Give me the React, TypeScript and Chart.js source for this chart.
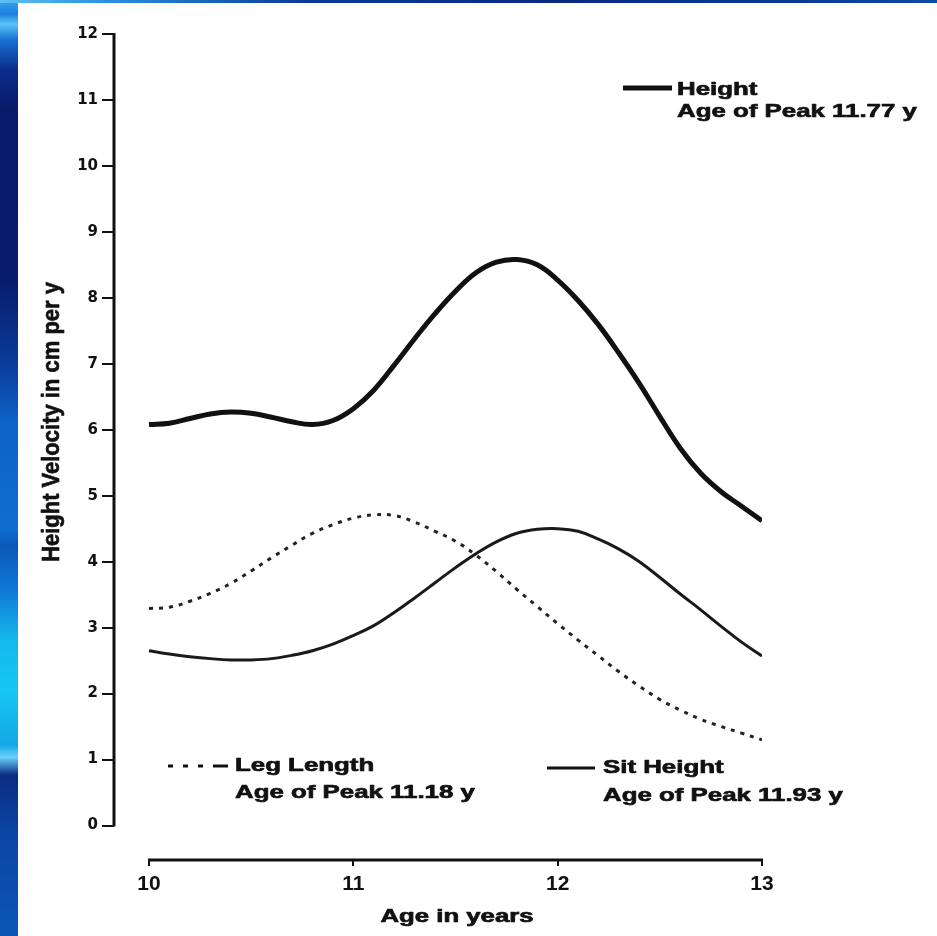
import React, { useEffect, useRef } from "react";
import { Chart, registerables } from "chart.js";

Chart.register(...registerables);

// ---------- data ----------
const ages = [
  10.0, 10.1, 10.2, 10.3, 10.4, 10.5, 10.6, 10.7, 10.8, 10.9,
  11.0, 11.1, 11.2, 11.3, 11.4, 11.5, 11.6, 11.7, 11.8, 11.9,
  12.0, 12.1, 12.2, 12.3, 12.4, 12.5, 12.6, 12.7, 12.8, 12.9, 13.0,
];

const heightVelocity = [
  6.08, 6.1, 6.17, 6.24, 6.27, 6.25, 6.19, 6.12, 6.08, 6.14,
  6.32, 6.6, 6.98, 7.38, 7.76, 8.1, 8.38, 8.54, 8.58, 8.5,
  8.27, 7.96, 7.59, 7.16, 6.7, 6.2, 5.72, 5.34, 5.06, 4.84, 4.62,
];

const legLengthVelocity = [
  3.29, 3.31, 3.4, 3.52, 3.67, 3.86, 4.06, 4.25, 4.43, 4.56,
  4.66, 4.71, 4.7, 4.6, 4.46, 4.31, 4.1, 3.85, 3.58, 3.32,
  3.06, 2.81, 2.57, 2.33, 2.11, 1.91, 1.75, 1.61, 1.5, 1.4, 1.3,
];

const sitHeightVelocity = [
  2.65, 2.6, 2.56, 2.53, 2.51, 2.51, 2.53, 2.58, 2.65, 2.75,
  2.88, 3.03, 3.23, 3.45, 3.68, 3.91, 4.12, 4.3, 4.43, 4.49,
  4.5, 4.46, 4.34, 4.19, 4.0, 3.76, 3.51, 3.27, 3.02, 2.78, 2.57,
];

const xAxisMin = 10;
const xAxisMax = 13;
const yAxisMin = 0;
const yAxisMax = 12;

const legendHeight = ["Height", "Age of Peak 11.77 y"];
const legendLeg = ["Leg Length", "Age of Peak 11.18 y"];
const legendSit = ["Sit Height", "Age of Peak 11.93 y"];
const xTitle = "Age in years";
const yTitle = "Height Velocity in cm per y";

// ---------- layout ----------
const OX = 18; // canvas offset in page
const OY = 3;
const CW = 919;
const CH = 933;
const FONT = '"Liberation Sans", Arial, Helvetica, sans-serif';
const INK = "#111111";

function drawText(
  ctx: CanvasRenderingContext2D,
  text: string,
  x: number,
  y: number,
  size: number,
  sx: number,
  align: CanvasTextAlign = "left"
) {
  ctx.save();
  ctx.font = `bold ${size}px ${FONT}`;
  ctx.fillStyle = INK;
  ctx.strokeStyle = INK;
  ctx.lineWidth = 0.7;
  ctx.lineJoin = "round";
  ctx.textBaseline = "alphabetic";
  ctx.textAlign = align;
  ctx.translate(x - OX, y - OY);
  ctx.scale(sx, 1);
  ctx.fillText(text, 0, 0);
  ctx.strokeText(text, 0, 0);
  ctx.restore();
}

function sampleLine(
  ctx: CanvasRenderingContext2D,
  x1: number,
  x2: number,
  y: number,
  w: number,
  dash: number[] = []
) {
  ctx.save();
  ctx.strokeStyle = INK;
  ctx.lineWidth = w;
  ctx.setLineDash(dash);
  ctx.beginPath();
  ctx.moveTo(x1 - OX, y - OY);
  ctx.lineTo(x2 - OX, y - OY);
  ctx.stroke();
  ctx.restore();
}

const decorPlugin = {
  id: "decor",
  beforeDatasetsDraw(chart: any) {
    const ctx: CanvasRenderingContext2D = chart.ctx;
    const xs = chart.scales.x;
    const ys = chart.scales.y;
    const area = chart.chartArea;
    ctx.save();
    ctx.strokeStyle = INK;
    ctx.lineWidth = 3;
    ctx.lineCap = "butt";
    // y axis line (0..12)
    ctx.beginPath();
    ctx.moveTo(area.left, ys.getPixelForValue(yAxisMax) - 1);
    ctx.lineTo(area.left, ys.getPixelForValue(yAxisMin) + 1);
    ctx.stroke();
    // x axis line (10..13)
    ctx.beginPath();
    ctx.moveTo(xs.getPixelForValue(xAxisMin) - 1, area.bottom);
    ctx.lineTo(xs.getPixelForValue(xAxisMax) + 1, area.bottom);
    ctx.stroke();
    ctx.restore();
  },
  afterDraw(chart: any) {
    const ctx: CanvasRenderingContext2D = chart.ctx;
    const S = 1.36;
    // Height legend (top right)
    sampleLine(ctx, 623, 672, 88, 5);
    drawText(ctx, legendHeight[0], 677, 95, 19, S);
    drawText(ctx, legendHeight[1], 677, 117, 19, S);
    // Leg Length legend
    sampleLine(ctx, 168, 212, 766, 3, [5, 10]);
    sampleLine(ctx, 213, 228, 766, 3);
    drawText(ctx, legendLeg[0], 235, 771, 19, S);
    drawText(ctx, legendLeg[1], 235, 798, 19, S);
    // Sit Height legend
    sampleLine(ctx, 547, 595, 768, 3);
    drawText(ctx, legendSit[0], 603, 773, 19, S);
    drawText(ctx, legendSit[1], 603, 801, 19, S);
    // axis titles
    drawText(ctx, xTitle, 457, 922, 18, 1.43, "center");
    ctx.save();
    ctx.font = `bold 22px ${FONT}`;
    ctx.fillStyle = INK;
    ctx.strokeStyle = INK;
    ctx.lineWidth = 0.6;
    ctx.lineJoin = "round";
    ctx.textAlign = "center";
    ctx.textBaseline = "alphabetic";
    ctx.translate(59 - OX, 422 - OY);
    ctx.rotate(-Math.PI / 2);
    ctx.scale(1.0, 1.11);
    ctx.fillText(yTitle, 0, 0);
    ctx.strokeText(yTitle, 0, 0);
    ctx.restore();
  },
};

export default function App() {
  const ref = useRef<HTMLCanvasElement | null>(null);

  useEffect(() => {
    if (!ref.current) return;
    const toPts = (vals: number[]) => ages.map((a, i) => ({ x: a, y: vals[i] }));

    // pixel anchors: 10 at page x 149, 13 at 762; axis at page x 114
    const pxPerYear = (762 - 149) / (xAxisMax - xAxisMin);
    const xMin = xAxisMin - (149 - 114) / pxPerYear;
    // 12 at page y 34, 0 at 825.5, x-axis line at page y 860
    const pxPerUnit = (825.5 - 34) / (yAxisMax - yAxisMin);
    const yMin = yAxisMin - (860 - 825.5) / pxPerUnit;

    const chart = new Chart(ref.current, {
      type: "line",
      data: {
        datasets: [
          {
            label: "Height",
            data: toPts(heightVelocity),
            borderColor: "#111111",
            borderWidth: 5,
            pointRadius: 0,
            tension: 0.4,
            fill: false,
          },
          {
            label: "Leg Length",
            data: toPts(legLengthVelocity),
            borderColor: "#222222",
            borderWidth: 3,
            borderDash: [4, 6],
            pointRadius: 0,
            tension: 0.4,
            fill: false,
          },
          {
            label: "Sit Height",
            data: toPts(sitHeightVelocity),
            borderColor: "#1a1a1a",
            borderWidth: 3,
            pointRadius: 0,
            tension: 0.4,
            fill: false,
          },
        ],
      },
      options: {
        responsive: false,
        animation: false,
        events: [],
        layout: { padding: { top: 31, right: CW - (762 - OX), bottom: 36, left: 0 } },
        plugins: {
          legend: { display: false },
          tooltip: { enabled: false },
          title: { display: false },
        },
        scales: {
          x: {
            type: "linear",
            min: xMin,
            max: xAxisMax,
            border: { display: false },
            grid: {
              display: true,
              drawOnChartArea: false,
              drawTicks: true,
              tickLength: 6,
              color: INK,
              lineWidth: 2,
            },
            ticks: {
              stepSize: 1,
              includeBounds: false,
              autoSkip: false,
              maxRotation: 0,
              padding: 6,
              color: INK,
              font: { family: FONT, size: 21, weight: "bold" },
              callback: (v: any) => String(v),
            },
            afterFit: (s: any) => {
              s.height = 40;
            },
          },
          y: {
            type: "linear",
            min: yMin,
            max: yAxisMax,
            border: { display: false },
            grid: {
              display: true,
              drawOnChartArea: false,
              drawTicks: true,
              tickLength: 12,
              color: INK,
              lineWidth: 2,
            },
            ticks: {
              stepSize: 1,
              includeBounds: false,
              autoSkip: false,
              padding: 4,
              color: INK,
              font: { family: '"DejaVu Sans", sans-serif', size: 15, weight: "bold" },
              callback: (v: any) => String(v),
            },
            afterFit: (s: any) => {
              s.width = 114 - OX;
            },
          },
        },
      },
      plugins: [decorPlugin],
    } as any);
    return () => chart.destroy();
  }, []);

  const leftStrip =
    "linear-gradient(to bottom, #3aa6ee 0px, #1a80de 14px, #5cc4f6 24px, #1670d0 40px, #0c2c8c 70px, #081a68 110px, #081c6c 280px, #0a3a98 360px, #0d62c6 420px, #0f6ed0 530px, #0a58b8 545px, #0f78d6 590px, #14b8ec 640px, #18c6f2 690px, #12a8e6 745px, #6ad2f8 757px, #0a2c84 775px, #0b44a2 830px, #0b58b6 936px)";
  const topStrip =
    "linear-gradient(to right, #5cc2f2 0px, #2a8ee0 110px, #0c3c98 300px, #0a2a80 560px, #0b3c94 800px, #0d4aa2 937px)";

  return (
    <div style={{ position: "absolute", left: 0, top: 0, width: 937, height: 936, background: "#ffffff", overflow: "hidden" }}>
      <div style={{ position: "absolute", left: 0, top: 0, width: OX, height: 936, background: leftStrip }} />
      <div style={{ position: "absolute", left: 0, top: 0, width: 937, height: OY, background: topStrip }} />
      <canvas
        ref={ref}
        width={CW}
        height={CH}
        style={{ position: "absolute", left: OX, top: OY, width: CW, height: CH, background: "#ffffff", display: "block" }}
      />
    </div>
  );
}
